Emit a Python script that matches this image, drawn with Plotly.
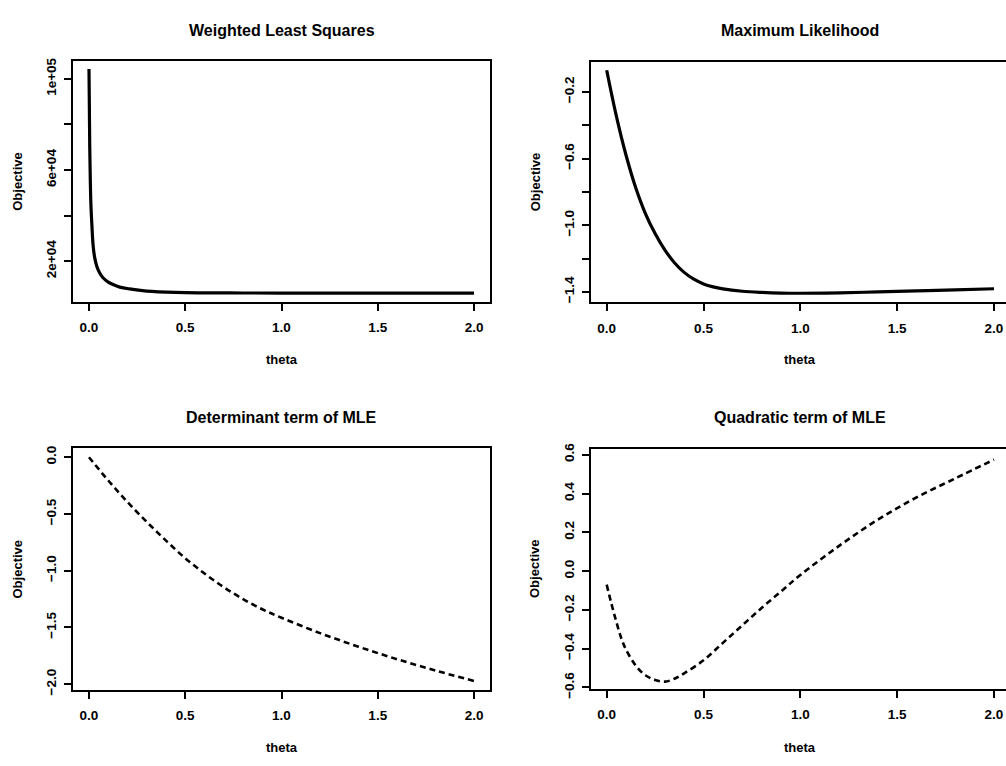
import plotly.graph_objects as go

# ---- data ----
theta_wls = [0.0, 0.002, 0.004, 0.007, 0.01, 0.015, 0.022, 0.03, 0.04, 0.055, 0.073, 0.1,
             0.125, 0.16, 0.21, 0.3, 0.45, 0.6, 0.8, 1.0, 1.5, 2.0]
obj_wls = [104300, 88000, 70000, 55000, 45000, 36000, 26500, 21500, 18000, 15000, 12800, 10900,
           9800, 8700, 7900, 6950, 6350, 6180, 6110, 6090, 6080, 6080]

theta_mle = [0.0, 0.05, 0.1, 0.15, 0.2, 0.25, 0.3, 0.35, 0.4, 0.45, 0.5, 0.55, 0.6, 0.7, 0.8,
             0.9, 1.0, 1.2, 1.4, 1.6, 1.8, 2.0]
obj_mle = [-0.07, -0.345, -0.58, -0.775, -0.93, -1.05, -1.148, -1.225, -1.283, -1.324, -1.352,
           -1.37, -1.382, -1.396, -1.403, -1.407, -1.408, -1.406, -1.4, -1.394, -1.388, -1.381]

theta_det = [0.0, 0.1, 0.2, 0.3, 0.4, 0.5, 0.6, 0.7, 0.8, 0.9, 1.0, 1.2, 1.4, 1.6, 1.8, 2.0]
obj_det = [0.0, -0.205, -0.395, -0.57, -0.735, -0.89, -1.025, -1.145, -1.25, -1.34, -1.415,
           -1.55, -1.67, -1.78, -1.88, -1.972]

theta_quad = [0.0, 0.025, 0.05, 0.075, 0.1, 0.15, 0.2, 0.25, 0.3, 0.35, 0.4, 0.5, 0.6, 0.7, 0.8,
              0.9, 1.0, 1.2, 1.4, 1.6, 1.8, 2.0]
obj_quad = [-0.07, -0.17, -0.262, -0.345, -0.405, -0.487, -0.537, -0.561, -0.57, -0.555, -0.527,
            -0.46, -0.37, -0.28, -0.19, -0.105, -0.02, 0.13, 0.265, 0.38, 0.478, 0.575]

x_ticks = [0.0, 0.5, 1.0, 1.5, 2.0]
wls_ticks = [20000, 40000, 60000, 80000, 100000]
wls_tick_text = ["2e+04", "", "6e+04", "", "1e+05"]
mle_ticks = [-1.4, -1.2, -1.0, -0.8, -0.6, -0.4, -0.2]
mle_tick_text = ["\u22121.4", "", "\u22121.0", "", "\u22120.6", "", "\u22120.2"]
det_ticks = [-2.0, -1.5, -1.0, -0.5, 0.0]
det_tick_text = ["\u22122.0", "\u22121.5", "\u22121.0", "\u22120.5", "0.0"]
quad_ticks = [-0.6, -0.4, -0.2, 0.0, 0.2, 0.4, 0.6]
quad_tick_text = ["\u22120.6", "\u22120.4", "\u22120.2", "0.0", "0.2", "0.4", "0.6"]

titles = ["Weighted Least Squares", "Maximum Likelihood", "Determinant term of MLE", "Quadratic term of MLE"]

W, H = 1006, 766
FONT = "Liberation Sans, Arial, sans-serif"
TICKFONT = dict(family=FONT, size=13.5, color="black", weight="bold")

fig = go.Figure()

panels = [
    (theta_wls, obj_wls, "solid", "x", "y", (73, 490), (56, 302), [-0.083, 2.083], [2300, 107900], wls_ticks, wls_tick_text, True),
    (theta_mle, obj_mle, "solid", "x2", "y2", (591, 1006), (56.7, 302.7), [-0.081, 2.062], [-1.4629, -0.0179], mle_ticks, mle_tick_text, False),
    (theta_det, obj_det, "dash", "x3", "y3", (73, 490), (451.7, 698.3), [-0.083, 2.083], [-2.049, 0.079], det_ticks, det_tick_text, True),
    (theta_quad, obj_quad, "dash", "x4", "y4", (591, 1006), (452.7, 697.7), [-0.081, 2.062], [-0.6085, 0.6283], quad_ticks, quad_tick_text, False),
]

layout_axes = {}
for i, (xs, ys, dash, xa, ya, xd, yd, xr, yr, yt, ytt, mir) in enumerate(panels):
    fig.add_trace(go.Scatter(
        x=xs, y=ys, mode="lines", xaxis=xa, yaxis=ya,
        line=dict(color="black", width=3.2 if dash == "solid" else 2.6,
                  dash="solid" if dash == "solid" else "6px,4px", shape="spline", smoothing=1.0),
        showlegend=False, hoverinfo="skip"))
    n = "" if i == 0 else str(i + 1)
    layout_axes["xaxis" + n] = dict(
        domain=[xd[0] / W, xd[1] / W], range=xr, anchor=ya,
        tickvals=x_ticks, ticktext=["%.1f" % v for v in x_ticks],
        ticks="outside", ticklen=7, tickwidth=2, tickcolor="black",
        showline=True, linewidth=2, linecolor="black", mirror=True,
        showgrid=False, zeroline=False,
        tickfont=TICKFONT, ticklabelstandoff=5)
    layout_axes["yaxis" + n] = dict(
        domain=[1 - yd[1] / H, 1 - yd[0] / H], range=yr, anchor=xa,
        tickvals=yt, ticktext=ytt, tickangle=-90,
        ticks="outside", ticklen=7, tickwidth=2, tickcolor="black",
        showline=True, linewidth=2, linecolor="black", mirror=mir,
        showgrid=False, zeroline=False,
        tickfont=TICKFONT, ticklabelstandoff=3)

fig.update_layout(**layout_axes)

annotations = []
centers_x = [281.5, 800, 281.5, 800]
title_y = [25, 25, 420, 420.5]
theta_y = [361, 361, 757, 757]
obj_x = [17.5, 535, 17.5, 535]
obj_y = [179, 180, 575, 575]
for i in range(4):
    annotations.append(dict(text="<b>%s</b>" % titles[i], x=centers_x[i] / W, y=1 - title_y[i] / H,
                            xref="paper", yref="paper", showarrow=False, xanchor="center", yanchor="middle",
                            font=dict(family=FONT, size=16, color="black")))
    annotations.append(dict(text="<b>theta</b>", x=centers_x[i] / W, y=1 - theta_y[i] / H,
                            xref="paper", yref="paper", showarrow=False, xanchor="center", yanchor="middle",
                            font=dict(family=FONT, size=13, color="black")))
    annotations.append(dict(text="<b>Objective</b>", x=obj_x[i] / W, y=1 - obj_y[i] / H, textangle=-90,
                            xref="paper", yref="paper", showarrow=False, xanchor="center", yanchor="middle",
                            font=dict(family=FONT, size=13, color="black")))

fig.update_layout(
    width=W, height=H,
    margin=dict(l=0, r=0, t=0, b=0),
    paper_bgcolor="white", plot_bgcolor="white",
    annotations=annotations,
    font=dict(family=FONT, color="black"),
)

fig.write_html("out.html", config={"displayModeBar": False})
